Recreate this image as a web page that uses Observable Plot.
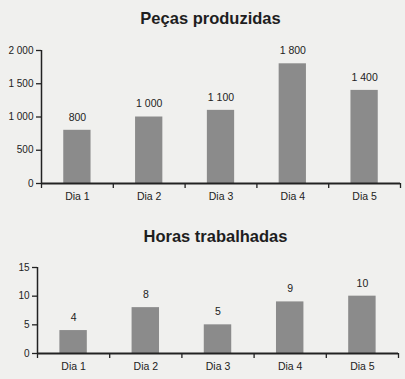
<!DOCTYPE html>
<html><head><meta charset="utf-8">
<script src="https://cdn.jsdelivr.net/npm/d3@7"></script>
<script src="https://cdn.jsdelivr.net/npm/@observablehq/plot@0.6"></script>
<style>
body{margin:0;background:#f0f0ee;font-family:"Liberation Sans",Arial,sans-serif;}
#wrap{position:relative;width:405px;height:379px;overflow:hidden;}
.title{position:absolute;width:405px;text-align:center;font-weight:bold;font-size:16.5px;color:#1e1e1e;}
.chart{position:absolute;left:0;}
</style></head><body>
<div id="wrap">
<div class="title" style="top:9px;left:8px">Peças produzidas</div>
<div class="chart" id="c1" style="top:30px"></div>
<div class="title" style="top:227px;left:13px">Horas trabalhadas</div>
<div class="chart" id="c2" style="top:252px"></div>
</div>
<script>
const categories = ["Dia 1","Dia 2","Dia 3","Dia 4","Dia 5"];
const pecas = [800, 1000, 1100, 1800, 1400];
const horas = [4, 8, 5, 9, 10];
const pecasTicks = [0, 500, 1000, 1500, 2000];
const horasTicks = [0, 5, 10, 15];

const fmt = d => d3.format(",")(d).replace(/,/g, " ");

function makeChart(values, yTicks, yMax, opts) {
  const data = categories.map((c, i) => ({c, i, v: values[i]}));
  const bounds = d3.range(categories.length + 1);
  return Plot.plot({
    width: 405, height: opts.height,
    marginTop: opts.mt, marginBottom: opts.mb, marginLeft: opts.ml, marginRight: opts.mr,
    style: {background: "transparent", fontFamily: "Liberation Sans, Arial, sans-serif", fontSize: "10px", color: "#222"},
    x: {domain: [0, categories.length], axis: null},
    y: {domain: [0, yMax], axis: null},
    marks: [
      Plot.rectY(data, {x1: d => d.i + 0.31, x2: d => d.i + 0.69, y: "v", fill: "#8b8b8b"}),
      Plot.text(data, {x: d => d.i + 0.5, y: "v", text: d => fmt(d.v), dy: -13, fontSize: 10.5, fill: "#222"}),
      Plot.axisY({ticks: yTicks, tickFormat: fmt, label: null, tickSize: 5, tickPadding: 3, stroke: "#222", strokeWidth: 1.3, fontSize: 10, fill: "#222"}),
      Plot.axisX({ticks: bounds, tickFormat: () => "", label: null, tickSize: 5, stroke: "#222", strokeWidth: 1.3}),
      Plot.axisX({ticks: categories.map((c, i) => i + 0.5), tickFormat: (d) => categories[Math.floor(d)], label: null, tickSize: 0, tickPadding: 9, fontSize: 10.5, fill: "#222"}),
      Plot.ruleX([0], {stroke: "#222", strokeWidth: 1.5}),
      Plot.ruleY([0], {stroke: "#222", strokeWidth: 1.8})
    ]
  });
}

document.getElementById("c1").append(makeChart(pecas, pecasTicks, 2000, {height: 180, mt: 20, mb: 27, ml: 41, mr: 5}));
document.getElementById("c2").append(makeChart(horas, horasTicks, 15, {height: 127, mt: 15, mb: 26, ml: 37, mr: 7}));
</script>
</body></html>
